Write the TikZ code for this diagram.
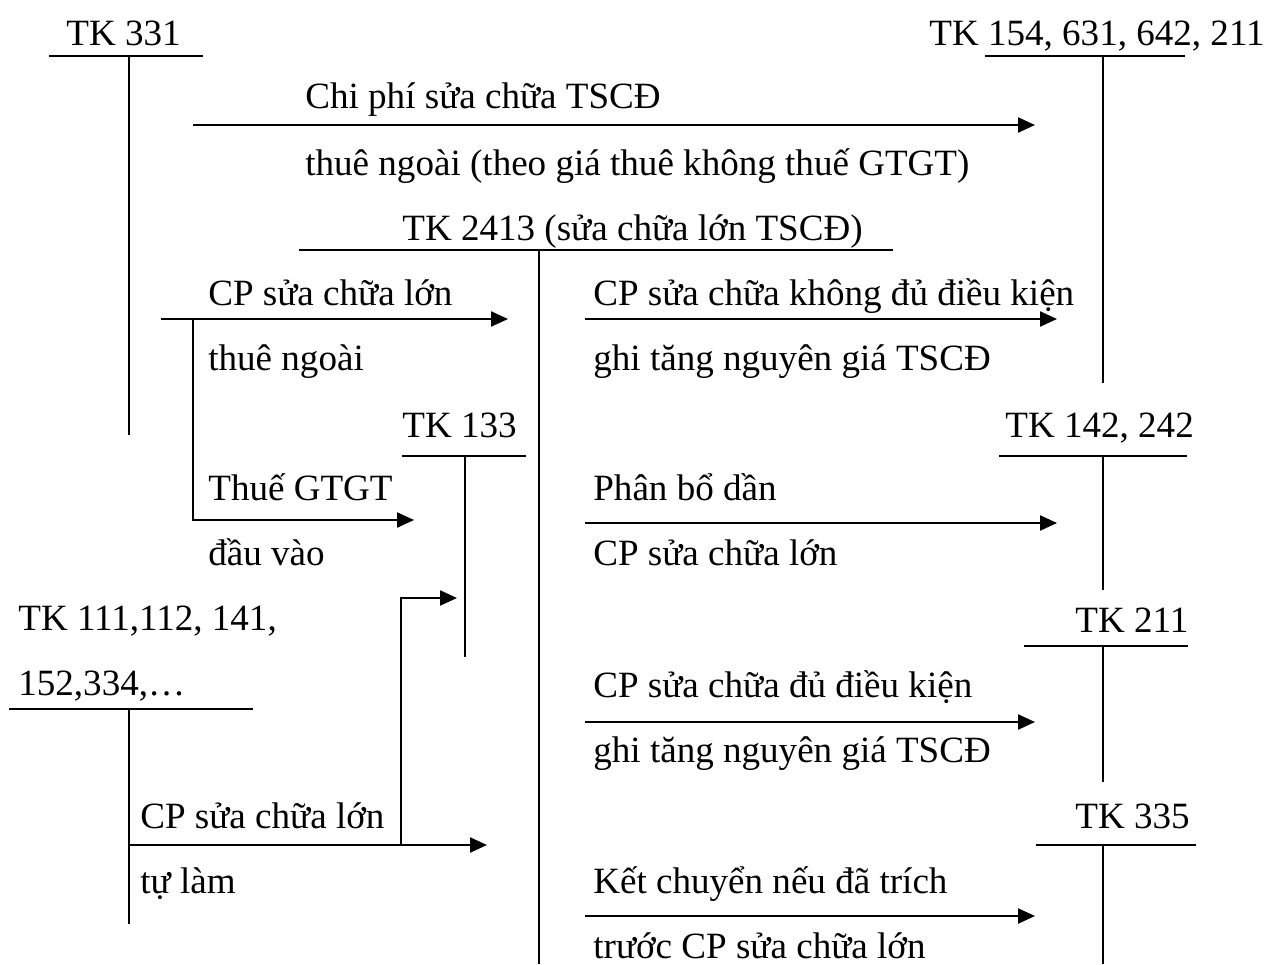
\documentclass[tikz,border=0pt]{standalone}
\usepackage{fontspec}
\setmainfont{Liberation Serif}
\usetikzlibrary{arrows.meta}
\tikzset{
  tline/.style={line width=1.1pt},
  flow/.style={line width=1.3pt,-{Triangle[length=0.34cm,width=0.3cm]}},
  lbl/.style={anchor=base west,inner sep=0pt}
}
\begin{document}
\begin{tikzpicture}[x=0.02cm,y=-0.02cm,font=\fontsize{21.1}{24}\selectfont]
\useasboundingbox (0,0) rectangle (1267,964);
% T-accounts
\coordinate (A1) at (49,56); \coordinate (A2) at (203,56); \coordinate (A3) at (129,56); \coordinate (A4) at (129,435);
\coordinate (B1) at (985,56); \coordinate (B2) at (1185,56); \coordinate (B3) at (1103,56); \coordinate (B4) at (1103,383);
\coordinate (C1) at (299,250); \coordinate (C2) at (893,250); \coordinate (C3) at (539,250); \coordinate (C4) at (539,964);
\coordinate (D1) at (402,456); \coordinate (D2) at (526,456); \coordinate (D3) at (465,456); \coordinate (D4) at (465,657);
\coordinate (E1) at (999,456); \coordinate (E2) at (1187,456); \coordinate (E3) at (1103,456); \coordinate (E4) at (1103,590);
\coordinate (F1) at (9,709); \coordinate (F2) at (253,709); \coordinate (F3) at (129,709); \coordinate (F4) at (129,924);
\coordinate (G1) at (1024,646); \coordinate (G2) at (1188,646); \coordinate (G3) at (1103,646); \coordinate (G4) at (1103,782);
\coordinate (H1) at (1036,845); \coordinate (H2) at (1196,845); \coordinate (H3) at (1103,845); \coordinate (H4) at (1103,964);
\foreach \t in {A,B,C,D,E,F,G,H}{\draw[tline] (\t1)--(\t2); \draw[tline] (\t3)--(\t4);}
\node[lbl] (tk331) at (66,45) {TK 331};
\node[lbl] (tk154) at (929,45) {TK 154, 631, 642, 211};
\node[lbl] (tk2413) at (402,240) {TK 2413 (sửa chữa lớn TSCĐ)};
\node[lbl] (tk133) at (402,437) {TK 133};
\node[lbl] (tk142) at (1005,437) {TK 142, 242};
\node[lbl] (tk111) at (18,630) {TK 111,112, 141,};
\node[lbl] (tk152) at (18,695) {152,334,…};
\node[lbl] (tk211) at (1075,632) {TK 211};
\node[lbl] (tk335) at (1075,828) {TK 335};
% flows
\coordinate (p1) at (193,125); \coordinate (q1) at (1035,125);
\draw[flow] (p1)--(q1);
\node[lbl] (t1a) at (305,108) {Chi phí sửa chữa TSCĐ};
\node[lbl] (t1b) at (305,175) {thuê ngoài (theo giá thuê không thuế GTGT)};
\coordinate (p2) at (161,319); \coordinate (q2) at (508,319); \coordinate (k2) at (193,319); \coordinate (q3) at (414,520);
\draw[flow] (p2)--(q2);
\draw[flow] (k2)|-(q3);
\node[lbl] (t2a) at (208,305) {CP sửa chữa lớn};
\node[lbl] (t2b) at (208,370) {thuê ngoài};
\node[lbl] (t3a) at (208,500) {Thuế GTGT};
\node[lbl] (t3b) at (208,565) {đầu vào};
\coordinate (p4) at (585,319); \coordinate (q4) at (1057,319);
\draw[flow] (p4)--(q4);
\node[lbl] (t4a) at (593,305) {CP sửa chữa không đủ điều kiện};
\node[lbl] (t4b) at (593,370) {ghi tăng nguyên giá TSCĐ};
\coordinate (p5) at (585,523); \coordinate (q5) at (1057,523);
\draw[flow] (p5)--(q5);
\node[lbl] (t5a) at (593,500) {Phân bổ dần};
\node[lbl] (t5b) at (593,565) {CP sửa chữa lớn};
\coordinate (p6) at (129,845); \coordinate (q6) at (487,845); \coordinate (k6) at (401,845); \coordinate (q7) at (457,598);
\draw[flow] (p6)--(q6);
\draw[flow] (k6)|-(q7);
\node[lbl] (t6a) at (140,828) {CP sửa chữa lớn};
\node[lbl] (t6b) at (140,893) {tự làm};
\coordinate (p8) at (585,722); \coordinate (q8) at (1035,722);
\draw[flow] (p8)--(q8);
\node[lbl] (t8a) at (593,697) {CP sửa chữa đủ điều kiện};
\node[lbl] (t8b) at (593,762) {ghi tăng nguyên giá TSCĐ};
\coordinate (p9) at (585,916); \coordinate (q9) at (1035,916);
\draw[flow] (p9)--(q9);
\node[lbl] (t9a) at (593,893) {Kết chuyển nếu đã trích};
\node[lbl] (t9b) at (593,958) {trước CP sửa chữa lớn};
\end{tikzpicture}
\end{document}
